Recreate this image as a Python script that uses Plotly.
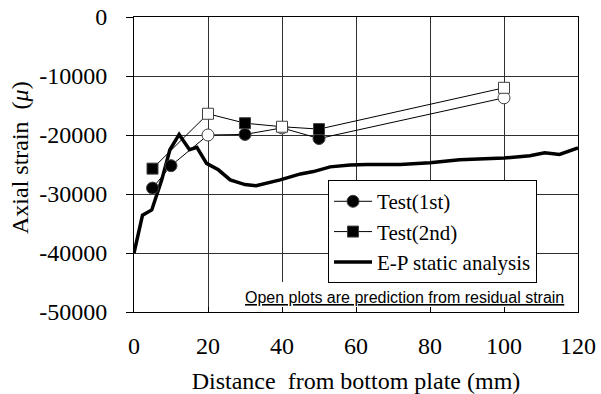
import plotly.graph_objects as go

# ---- data ----
test1_x = [5, 10, 20, 30, 40, 50, 100]
test1_y = [-29000, -25200, -20000, -19900, -18800, -20600, -13700]
test1_open = [False, False, True, False, True, False, True]

test2_x = [5, 20, 30, 40, 50, 100]
test2_y = [-25700, -16400, -18000, -18600, -19000, -12000]
test2_open = [False, True, False, True, False, True]

ep_x = [0, 2.3, 4.8, 7.5, 9.7, 12.2, 15, 17, 19.6, 22.8, 26, 30, 33, 39.5, 45,
        48.5, 53, 58.4, 63, 72, 80, 88, 100, 107, 111, 115, 120]
ep_y = [-40000, -33600, -32700, -27600, -22500, -19900, -22500, -22100, -24800,
        -25900, -27600, -28400, -28600, -27600, -26600, -26200, -25400, -25100,
        -25000, -25000, -24700, -24200, -23900, -23500, -23000, -23300, -22200]

x_ticks = [0, 20, 40, 60, 80, 100, 120]
y_ticks = [0, -10000, -20000, -30000, -40000, -50000]
y_ticktext = ["0", "-10000", "-20000", "-30000", "-40000", "-50000"]

serif = "Liberation Serif"

fig = go.Figure()

fig.add_trace(go.Scatter(
    x=ep_x, y=ep_y, mode="lines", name="E-P static analysis",
    line=dict(color="black", width=3.5), showlegend=False))

fig.add_trace(go.Scatter(
    x=test1_x, y=test1_y, mode="lines+markers", name="Test(1st)",
    line=dict(color="black", width=1),
    marker=dict(symbol="circle", size=12,
                color=["white" if o else "black" for o in test1_open],
                line=dict(color="#404040", width=1))))

fig.add_trace(go.Scatter(
    x=test2_x, y=test2_y, mode="lines+markers", name="Test(2nd)",
    line=dict(color="black", width=1),
    marker=dict(symbol="square", size=11,
                color=["white" if o else "black" for o in test2_open],
                line=dict(color="#404040", width=1))))

# legend-only entry for EP line (keeps legend order)
fig.add_trace(go.Scatter(
    x=[None], y=[None], mode="lines", name="E-P static analysis",
    line=dict(color="black", width=3.5)))

# white note box covering gridlines
fig.add_shape(type="rect", xref="x", yref="y", x0=30, x1=120, y0=-50000, y1=-44900,
              fillcolor="white", line=dict(width=0), layer="between")

fig.add_annotation(
    x=73.2, y=-47600, xref="x", yref="y", showarrow=False,
    text="<u>Open plots are prediction from residual strain</u>",
    font=dict(family="Liberation Sans Narrow, Liberation Sans, sans-serif", size=16, color="black"))

# y-axis title as rotated annotation
fig.add_annotation(
    x=-0.257, y=0.525, xref="paper", yref="paper", showarrow=False,
    xanchor="center", yanchor="middle",
    text="Axial strain  (<i>μ</i>)", textangle=-90,
    font=dict(family=serif, size=24, color="black"))

fig.update_layout(
    width=601, height=394,
    margin=dict(l=134, r=23, t=17, b=82, autoexpand=False),
    paper_bgcolor="white", plot_bgcolor="white",
    font=dict(family=serif, size=24, color="black"),
    legend=dict(x=0.437, y=0.447, xanchor="left", yanchor="top",
                bgcolor="white", bordercolor="black", borderwidth=1,
                font=dict(family=serif, size=21, color="black"),
                itemwidth=38, tracegroupgap=0),
)

fig.update_xaxes(
    range=[0, 120], tickvals=x_ticks, ticks="inside", ticklen=5, tickcolor="black",
    tickfont=dict(family=serif, size=24, color="black"),
    showgrid=True, gridcolor="#303030", gridwidth=1,
    showline=True, linecolor="black", linewidth=1, mirror=True,
    zeroline=False, ticklabelstandoff=12, automargin=False,
    title=dict(text="Distance  from bottom plate (mm)", standoff=14,
               font=dict(family=serif, size=24)))

fig.update_yaxes(
    range=[-50000, 0], tickvals=y_ticks, ticktext=y_ticktext,
    ticks="outside", ticklen=7, tickcolor="black",
    tickfont=dict(family=serif, size=24, color="black"),
    showgrid=True, gridcolor="#303030", gridwidth=1,
    showline=True, linecolor="black", linewidth=1, mirror=True,
    zeroline=False, ticklabelstandoff=14, automargin=False)

fig.write_html("out.html")
